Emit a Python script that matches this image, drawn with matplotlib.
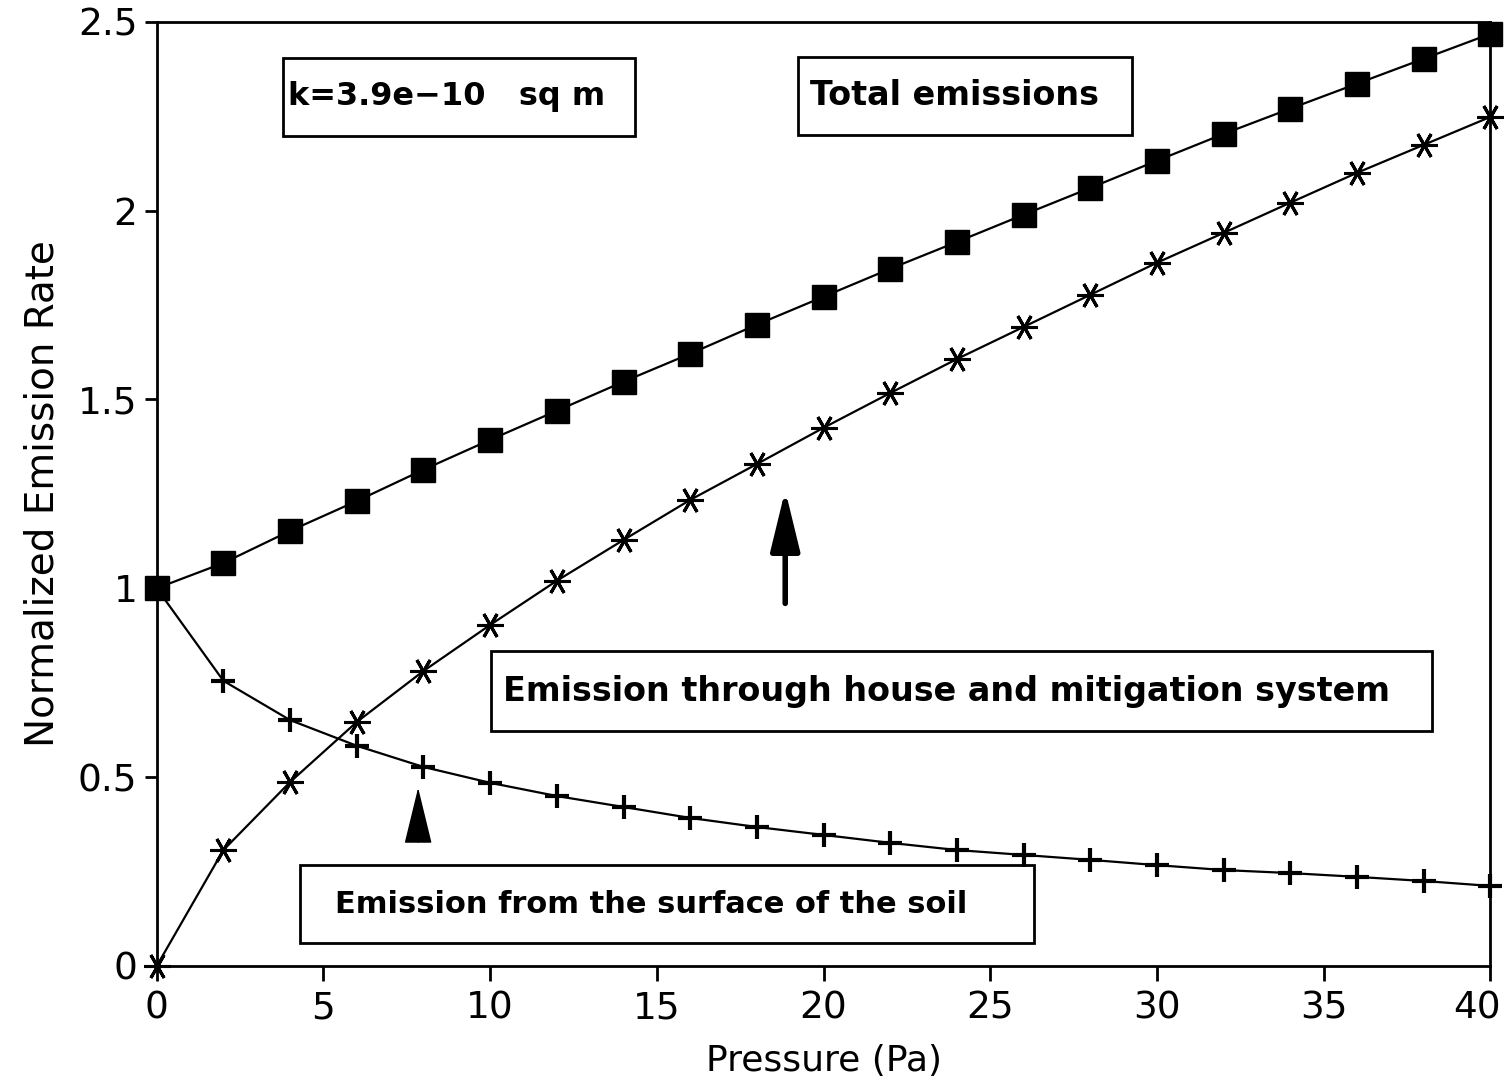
import matplotlib.pyplot as plt
import matplotlib.transforms as mtransforms
from matplotlib.patches import Rectangle

# pressure (Pa)
pressure = [0, 2, 4, 6, 8, 10, 12, 14, 16, 18, 20, 22, 24, 26, 28, 30, 32, 34, 36, 38, 40]

total = [1.00, 1.067, 1.152, 1.231, 1.314, 1.393, 1.470, 1.547, 1.621, 1.698, 1.772,
         1.846, 1.917, 1.989, 2.060, 2.132, 2.203, 2.270, 2.336, 2.402, 2.468]

house = [0.00, 0.307, 0.487, 0.646, 0.781, 0.903, 1.020, 1.128, 1.234, 1.329, 1.425,
         1.517, 1.607, 1.692, 1.777, 1.862, 1.941, 2.021, 2.100, 2.174, 2.248]

surface = [1.00, 0.755, 0.651, 0.583, 0.527, 0.485, 0.450, 0.421, 0.392, 0.368, 0.347,
           0.326, 0.307, 0.294, 0.281, 0.267, 0.254, 0.246, 0.236, 0.225, 0.212]

xticks = [0, 5, 10, 15, 20, 25, 30, 35, 40]
yticks = [0, 0.5, 1, 1.5, 2, 2.5]
ytick_labels = ["0", "0.5", "1", "1.5", "2", "2.5"]

fig = plt.figure(figsize=(15.07, 10.86), dpi=100)
ax = fig.add_axes([0.104, 0.1105, 0.885, 0.8695])

ax.plot(pressure, total, color="black", lw=1.6, marker="s", ms=17,
        mfc="black", mec="black", clip_on=False, zorder=3)
ax.plot(pressure, house, color="black", lw=1.6, marker=(6, 2, 90), ms=19,
        mew=2.2, clip_on=False, zorder=3)
ax.plot(pressure, surface, color="black", lw=1.6, marker="+", ms=17,
        mew=3, clip_on=False, zorder=3)

ax.set_xlim(0, 40)
ax.set_ylim(0, 2.5)
ax.set_xticks(xticks, [str(t) for t in xticks], fontsize=27)
ax.set_yticks(yticks, ytick_labels, fontsize=27)
ax.tick_params(axis="x", direction="out", length=11, width=2, pad=7)
ax.tick_params(axis="y", direction="out", length=9, width=2, pad=5)
for sp in ax.spines.values():
    sp.set_linewidth(2)

# last x label pulled in a little so it stays on the page
last = ax.get_xticklabels()[-1]
last.set_transform(last.get_transform() +
                   mtransforms.ScaledTranslation(-0.13, 0, fig.dpi_scale_trans))

ax.set_xlabel("Pressure (Pa)", fontsize=26, labelpad=12)
ax.set_ylabel("Normalized Emission Rate", fontsize=28, labelpad=12)

# text boxes
boxes = [
    ((3.78, 2.198), 10.56, 0.207, "k=3.9e\u221210   sq m", 3.95, 23),
    ((19.24, 2.201), 10.02, 0.206, "Total emissions", 19.6, 24),
    ((10.02, 0.622), 28.24, 0.212, "Emission through house and mitigation system", 10.4, 24),
    ((4.29, 0.061), 22.03, 0.206, "Emission from the surface of the soil", 5.35, 22),
]
for (x0, y0), w, h, txt, tx, fs in boxes:
    ax.add_patch(Rectangle((x0, y0), w, h, fill=False, ec="black", lw=2, zorder=4))
    ax.text(tx, y0 + h / 2, txt, ha="left", va="center", fontsize=fs,
            fontweight="bold", zorder=5)

# arrows
ax.annotate("", xy=(18.85, 1.26), xytext=(18.85, 0.96),
            arrowprops=dict(arrowstyle="-|>,head_length=3.7,head_width=0.9",
                            mutation_scale=10, color="black", lw=4,
                            shrinkA=0, shrinkB=0))
ax.annotate("", xy=(7.84, 0.472), xytext=(7.84, 0.328),
            arrowprops=dict(arrowstyle="-|>,head_length=3.7,head_width=0.9",
                            mutation_scale=10, color="black", lw=1,
                            shrinkA=0, shrinkB=0))

fig.savefig("out.png", dpi=100)
